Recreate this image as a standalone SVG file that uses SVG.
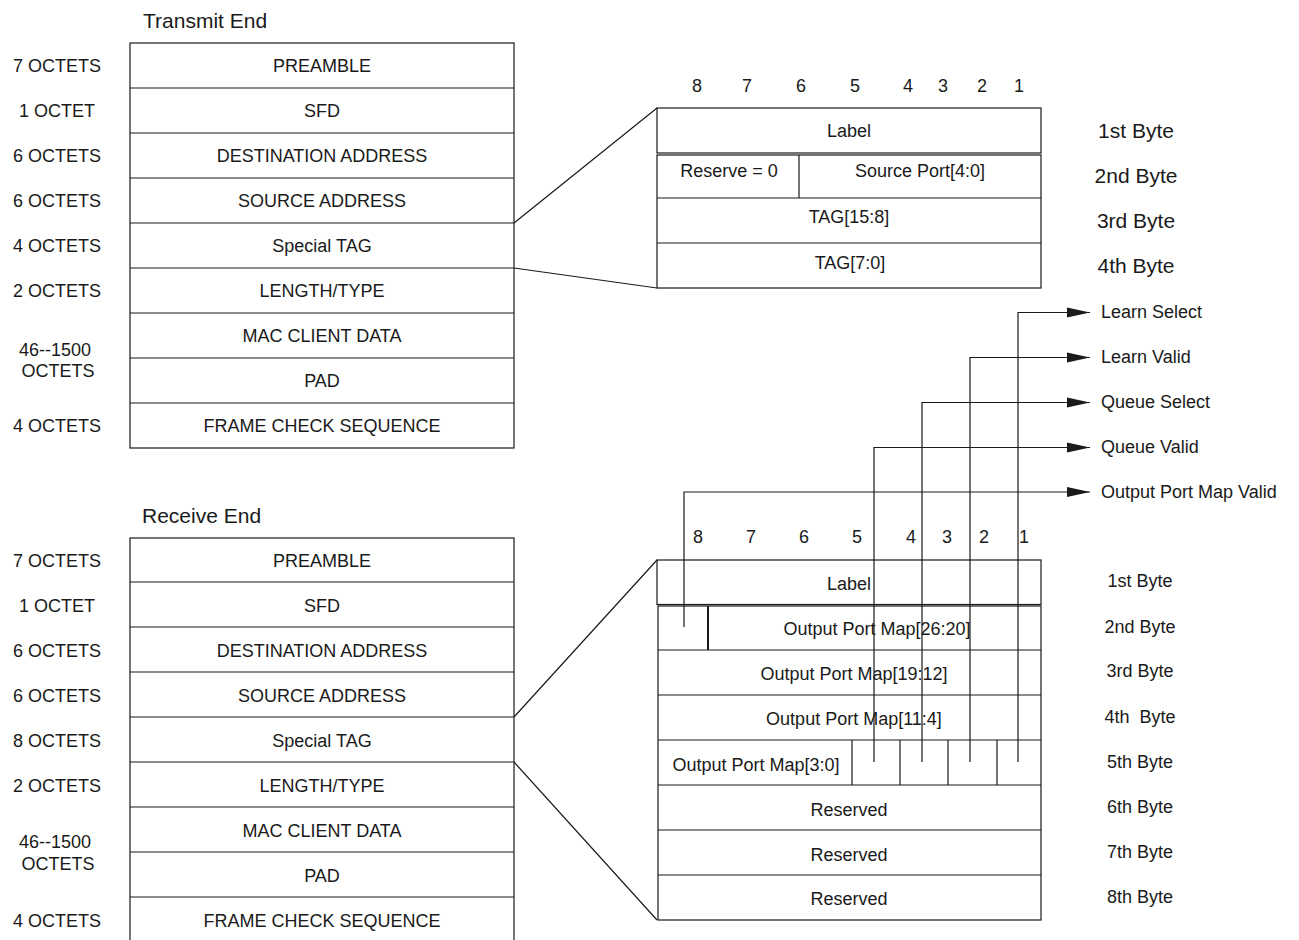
<svg xmlns="http://www.w3.org/2000/svg" width="1299" height="940" viewBox="0 0 1299 940">
<style>
  .ln{stroke:#1a1a1a;stroke-width:1.2;fill:none}
  .thk{stroke:#1a1a1a;stroke-width:2;fill:none}
  text{font-family:"Liberation Sans",Arial,sans-serif;fill:#1a1a1a;font-size:18px}
  .c{text-anchor:middle}
  .title{font-size:21px}
  .big{font-size:21px}
</style>
<defs>
  <marker id="arr" markerUnits="userSpaceOnUse" markerWidth="24" markerHeight="12" refX="23" refY="6" orient="auto">
    <path d="M0,1 L23,6 L0,11 z" fill="#1a1a1a"/>
  </marker>
</defs>
<rect width="1299" height="940" fill="#fff"/>

<!-- Transmit frame -->
<g id="tx-frame">
  <text class="title" x="143" y="28">Transmit End</text>
  <rect class="ln" x="130" y="43" width="384" height="405"/>
  <path class="ln" d="M130,88H514M130,133H514M130,178H514M130,223H514M130,268H514M130,313H514M130,358H514M130,403H514"/>
  <g class="c">
    <text x="322" y="72">PREAMBLE</text>
    <text x="322" y="117">SFD</text>
    <text x="322" y="162">DESTINATION ADDRESS</text>
    <text x="322" y="207">SOURCE ADDRESS</text>
    <text x="322" y="252">Special TAG</text>
    <text x="322" y="297">LENGTH/TYPE</text>
    <text x="322" y="342">MAC CLIENT DATA</text>
    <text x="322" y="387">PAD</text>
    <text x="322" y="432">FRAME CHECK SEQUENCE</text>
    <text x="57" y="72">7 OCTETS</text>
    <text x="57" y="117">1 OCTET</text>
    <text x="57" y="162">6 OCTETS</text>
    <text x="57" y="207">6 OCTETS</text>
    <text x="57" y="252">4 OCTETS</text>
    <text x="57" y="297">2 OCTETS</text>
    <text x="55" y="356">46--1500</text>
    <text x="58" y="377">OCTETS</text>
    <text x="57" y="432">4 OCTETS</text>
  </g>
</g>

<!-- Receive frame -->
<g id="rx-frame">
  <text class="title" x="142" y="523">Receive End</text>
  <rect class="ln" x="130" y="538" width="384" height="405"/>
  <path class="ln" d="M130,582H514M130,627H514M130,672H514M130,717H514M130,762H514M130,807H514M130,852H514M130,897H514"/>
  <g class="c">
    <text x="322" y="567">PREAMBLE</text>
    <text x="322" y="612">SFD</text>
    <text x="322" y="657">DESTINATION ADDRESS</text>
    <text x="322" y="702">SOURCE ADDRESS</text>
    <text x="322" y="747">Special TAG</text>
    <text x="322" y="792">LENGTH/TYPE</text>
    <text x="322" y="837">MAC CLIENT DATA</text>
    <text x="322" y="882">PAD</text>
    <text x="322" y="927">FRAME CHECK SEQUENCE</text>
    <text x="57" y="567">7 OCTETS</text>
    <text x="57" y="612">1 OCTET</text>
    <text x="57" y="657">6 OCTETS</text>
    <text x="57" y="702">6 OCTETS</text>
    <text x="57" y="747">8 OCTETS</text>
    <text x="57" y="792">2 OCTETS</text>
    <text x="55" y="848">46--1500</text>
    <text x="58" y="870">OCTETS</text>
    <text x="57" y="927">4 OCTETS</text>
  </g>
</g>

<!-- Transmit special tag detail -->
<g id="tx-tag">
  <g class="c">
    <text x="697" y="92">8</text>
    <text x="747" y="92">7</text>
    <text x="801" y="92">6</text>
    <text x="855" y="92">5</text>
    <text x="908" y="92">4</text>
    <text x="943" y="92">3</text>
    <text x="982" y="92">2</text>
    <text x="1019" y="92">1</text>
  </g>
  <rect class="ln" x="657" y="108" width="384" height="45"/>
  <rect class="ln" x="657" y="155" width="384" height="133"/>
  <path class="ln" d="M657,198H1041M657,243H1041M799,155V198"/>
  <g class="c">
    <text x="849" y="137">Label</text>
    <text x="729" y="177">Reserve = 0</text>
    <text x="920" y="177">Source Port[4:0]</text>
    <text x="849" y="223">TAG[15:8]</text>
    <text x="850" y="269">TAG[7:0]</text>
    <text class="big" x="1136" y="138">1st Byte</text>
    <text class="big" x="1136" y="183">2nd Byte</text>
    <text class="big" x="1136" y="228">3rd Byte</text>
    <text class="big" x="1136" y="273">4th Byte</text>
  </g>
</g>

<!-- Receive special tag detail -->
<g id="rx-tag">
  <g class="c">
    <text x="698" y="543">8</text>
    <text x="751" y="543">7</text>
    <text x="804" y="543">6</text>
    <text x="857" y="543">5</text>
    <text x="911" y="543">4</text>
    <text x="947" y="543">3</text>
    <text x="984" y="543">2</text>
  </g>
  <text x="1019" y="543">1</text>
  <rect class="ln" x="657" y="560" width="384" height="44.5"/>
  <rect class="ln" x="658" y="606" width="383" height="314"/>
  <path class="ln" d="M658,650H1041M658,695H1041M658,740H1041M658,785H1041M658,830H1041M658,875H1041"/>
  <path class="thk" d="M708,606V650"/>
  <path class="ln" d="M852,740V785M900,740V785M948,740V785M997,740V785"/>
  <g class="c">
    <text x="849" y="590">Label</text>
    <text x="877" y="635">Output Port Map[26:20]</text>
    <text x="854" y="680">Output Port Map[19:12]</text>
    <text x="854" y="725">Output Port Map[11:4]</text>
    <text x="756" y="771">Output Port Map[3:0]</text>
    <text x="849" y="816">Reserved</text>
    <text x="849" y="861">Reserved</text>
    <text x="849" y="905">Reserved</text>
    <text x="1140" y="587">1st Byte</text>
    <text x="1140" y="633">2nd Byte</text>
    <text x="1140" y="677">3rd Byte</text>
    <text x="1140" y="723">4th&#160; Byte</text>
    <text x="1140" y="768">5th Byte</text>
    <text x="1140" y="813">6th Byte</text>
    <text x="1140" y="858">7th Byte</text>
    <text x="1140" y="903">8th Byte</text>
  </g>
</g>

<!-- Connectors -->
<g id="connectors">
  <path class="ln" d="M514,223L657,108M514,268L657,288"/>
  <path class="ln" d="M514,717L657,560M514,762L657,920"/>
  <path class="ln" marker-end="url(#arr)" d="M1018,762V312.5H1090"/>
  <path class="ln" marker-end="url(#arr)" d="M970,762V357.5H1090"/>
  <path class="ln" marker-end="url(#arr)" d="M922,762V402.5H1090"/>
  <path class="ln" marker-end="url(#arr)" d="M874,762V447.5H1090"/>
  <path class="ln" marker-end="url(#arr)" d="M684,627V492H1090"/>
</g>

<!-- Signal labels -->
<g id="signals">
  <text x="1101" y="318">Learn Select</text>
  <text x="1101" y="363">Learn Valid</text>
  <text x="1101" y="408">Queue Select</text>
  <text x="1101" y="453">Queue Valid</text>
  <text x="1101" y="498">Output Port Map Valid</text>
</g>
</svg>
